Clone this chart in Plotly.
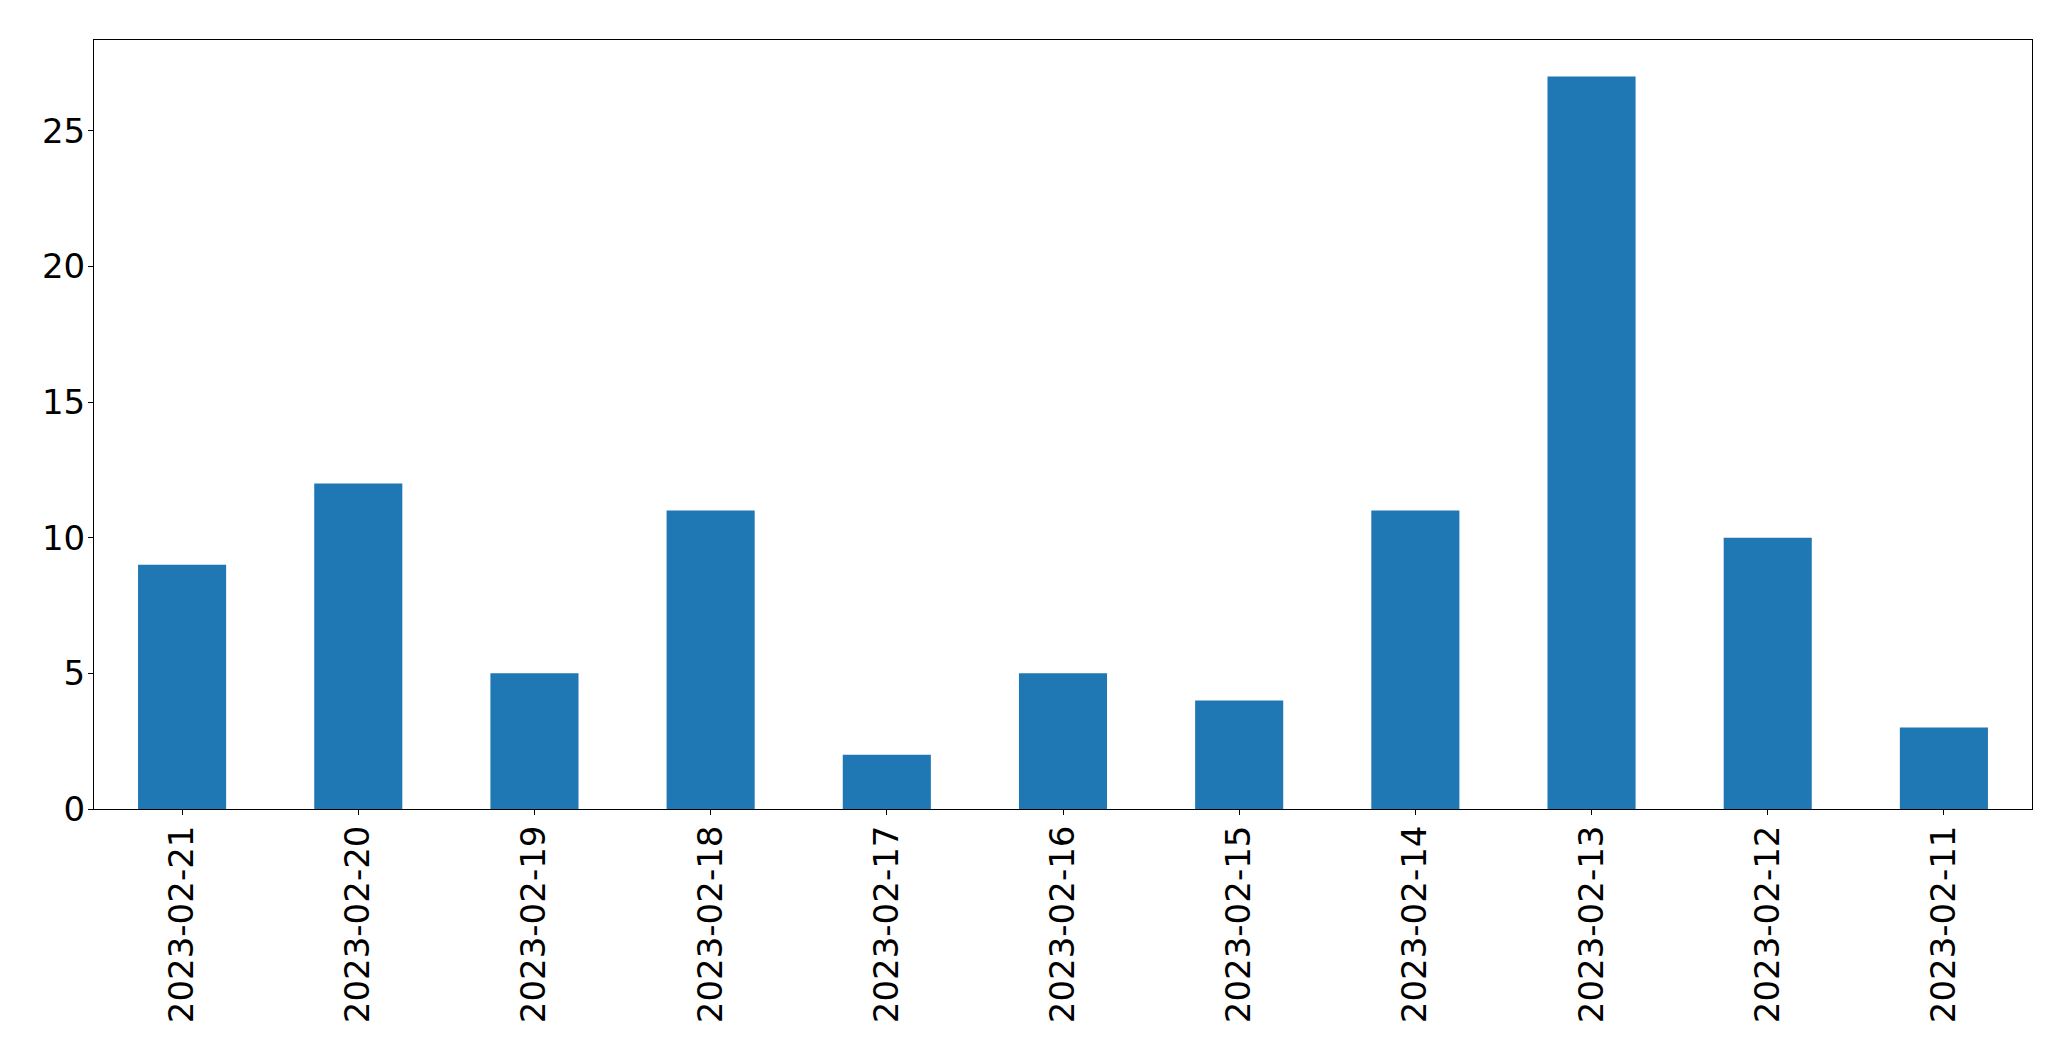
import plotly.graph_objects as go

dates = ["2023-02-21", "2023-02-20", "2023-02-19", "2023-02-18", "2023-02-17",
         "2023-02-16", "2023-02-15", "2023-02-14", "2023-02-13", "2023-02-12",
         "2023-02-11"]
counts = [9, 12, 5, 11, 2, 5, 4, 11, 27, 10, 3]
y_ticks = [0, 5, 10, 15, 20, 25]

fig = go.Figure(go.Bar(x=dates, y=counts, width=0.5, marker=dict(color="#1f77b4", line=dict(width=0))))

fig.update_layout(
    width=2055, height=1045, autosize=False,
    margin=dict(l=86, r=31, t=32, b=244, pad=0),
    plot_bgcolor="white", paper_bgcolor="white",
    font=dict(family="DejaVu Sans", size=34, color="black"),
    showlegend=False,
    bargap=0.5,
)
fig.update_xaxes(
    type="category", range=[-0.5, 10.5],
    showline=True, linecolor="black", linewidth=1, mirror=True,
    ticks="outside", ticklen=5, tickwidth=1, tickcolor="black",
    tickangle=-90, showgrid=False, zeroline=False,
    ticklabelstandoff=-3,
)
fig.update_yaxes(
    range=[0, 28.35], tickvals=y_ticks,
    showline=True, linecolor="black", linewidth=1, mirror=True,
    ticks="outside", ticklen=5, tickwidth=1, tickcolor="black",
    showgrid=False, zeroline=False,
    ticklabelstandoff=-4,
)

fig.write_html("out.html")
